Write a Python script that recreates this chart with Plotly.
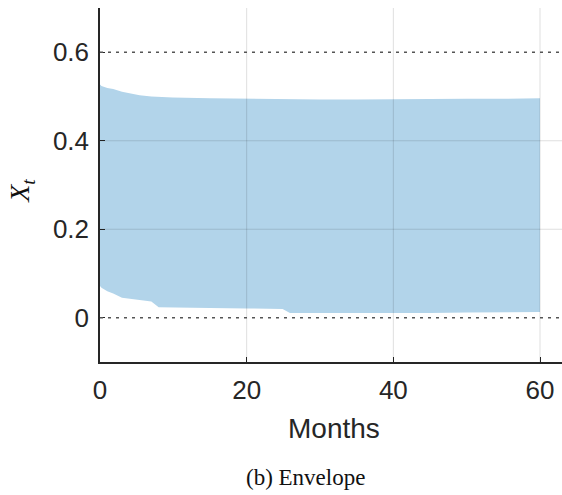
import plotly.graph_objects as go

# Envelope bounds
months = [0, 0.2, 1, 1.8, 3, 5.4, 7, 8, 9.9, 15, 20, 24.9, 25.9, 30, 35, 40, 45, 50, 55, 60]
upper = [0.527, 0.524, 0.519, 0.517, 0.511, 0.503, 0.500, 0.499, 0.498, 0.496, 0.495, 0.494, 0.493, 0.493, 0.493, 0.494, 0.495, 0.495, 0.495, 0.496]
lower = [0.072, 0.068, 0.060, 0.055, 0.045, 0.040, 0.037, 0.024, 0.023, 0.022, 0.021, 0.020, 0.011, 0.011, 0.010, 0.010, 0.011, 0.012, 0.012, 0.013]

x_ticks = [0, 20, 40, 60]
y_ticks = [0, 0.2, 0.4, 0.6]
y_tick_text = ["0", "0.2", "0.4", "0.6"]
ref_lines = [0, 0.6]

fill_color = "#b2d4ea"
text_color = "#262626"
serif = "Liberation Serif, Times New Roman, serif"

fig = go.Figure()
fig.add_trace(go.Scatter(x=months, y=lower, mode="lines", line=dict(width=0, color=fill_color),
                         showlegend=False, hoverinfo="skip"))
fig.add_trace(go.Scatter(x=months, y=upper, mode="lines", line=dict(width=0, color=fill_color),
                         fill="tonexty", fillcolor=fill_color, showlegend=False, hoverinfo="skip"))

shapes = []
for xv in x_ticks[1:]:
    shapes.append(dict(type="line", xref="x", yref="paper", x0=xv, x1=xv, y0=0, y1=1,
                       line=dict(color="rgba(0,0,0,0.13)", width=1), layer="above"))
for yv in [0.2, 0.4]:
    shapes.append(dict(type="line", xref="paper", yref="y", x0=0, x1=1, y0=yv, y1=yv,
                       line=dict(color="rgba(0,0,0,0.13)", width=1), layer="above"))
for yv in ref_lines:
    shapes.append(dict(type="line", xref="paper", yref="y", x0=0, x1=1, y0=yv, y1=yv,
                       line=dict(color="#555555", width=1.3, dash="3px,5px"), layer="above"))

fig.update_layout(
    width=562, height=495,
    margin=dict(l=100, r=0, t=8, b=133),
    paper_bgcolor="white", plot_bgcolor="white",
    font=dict(family="Liberation Sans, Arial, sans-serif", size=26, color=text_color),
    shapes=shapes,
    xaxis=dict(range=[0, 63], tickvals=x_ticks, ticks="inside", ticklen=5, tickcolor="#262626",
               showgrid=False, zeroline=False, showline=True, linecolor="#262626", linewidth=1.5,
               tickfont=dict(size=26), automargin=False, ticklabelstandoff=4,
               layer="above traces"),
    yaxis=dict(range=[-0.1, 0.7], tickvals=y_ticks, ticktext=y_tick_text, ticks="inside", ticklen=5,
               tickcolor="#262626",
               showgrid=False, zeroline=False, showline=True, linecolor="#262626", linewidth=1.5,
               tickfont=dict(size=26), automargin=False, ticklabelstandoff=4,
               layer="above traces"),
    annotations=[
        dict(text="Months", xref="paper", yref="paper", x=0.506, y=-0.189,
             xanchor="center", yanchor="middle", showarrow=False,
             font=dict(size=28, color=text_color)),
        dict(text="<i>X</i><sub><i>t</i></sub>", xref="paper", yref="paper", x=-0.17, y=0.485,
             xanchor="center", yanchor="middle", showarrow=False, textangle=-90,
             font=dict(family=serif, size=28, color="#111111")),
        dict(text="(b) Envelope", xref="paper", yref="paper", x=0.444, y=-0.325,
             xanchor="center", yanchor="middle", showarrow=False,
             font=dict(family=serif, size=23, color="#111111")),
    ],
)

fig.write_html("out.html", config={"displayModeBar": False},
               post_script="document.body.style.margin='0';")
